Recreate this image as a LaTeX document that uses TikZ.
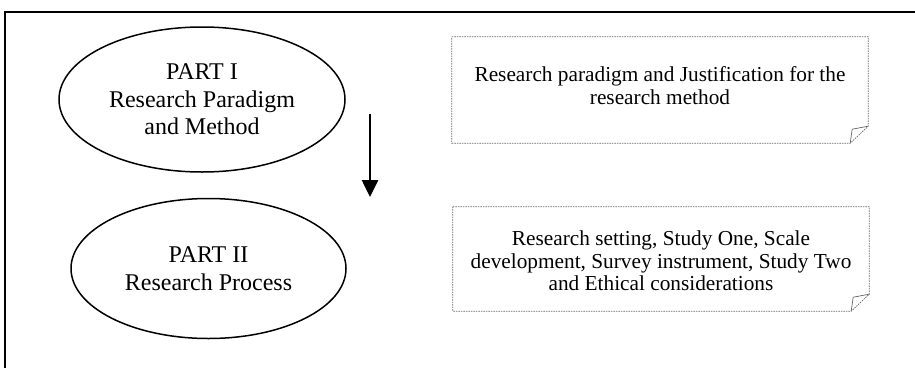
\documentclass[tikz,border=0pt]{standalone}
\usepackage{fontspec}
\setmainfont{Liberation Serif}
\usetikzlibrary{shapes.geometric,arrows.meta}
\begin{document}
\begin{tikzpicture}[x=1pt,y=-1pt,
  frameline/.style={line width=2pt,black},
  partnode/.style={ellipse,draw,line width=1.5pt,inner sep=0pt,align=center,
    font=\fontsize{24}{27.5}\selectfont},
  notebox/.style={rectangle,draw=none,inner sep=0pt},
  noteline/.style={draw=black!60,line width=0.7pt,dash pattern=on 1.5pt off 1pt},
  foldline/.style={draw=black!60,line width=0.7pt},
  notetext/.style={align=center,inner sep=0pt,font=\fontsize{21.3}{22.5}\selectfont},
  flow/.style={line width=2.6pt,-{Triangle[width=16pt,length=17pt]}}]
\useasboundingbox (0,0) rectangle (915,367);

% outer frame (only its top and left sides fall inside the page)
\draw[frameline] (915,12) -- (5,12) -- (5,368);

% the two parts
\node[partnode,minimum width=286pt,minimum height=145pt] (p1) at (202,99.5)
  {PART I\\Research Paradigm\\and Method};
\node[partnode,minimum width=275pt,minimum height=140pt] (p2) at (208.5,268.5)
  {PART II\\Research Process};

% direction of reading
\coordinate (a1) at (370,114);
\coordinate (a2) at (370,197);
\draw[flow] (a1) -- (a2);

% note boxes with a folded bottom-right corner
\node[notebox,minimum width=416pt,minimum height=106pt] (b1) at (660,90) {};
\node[notebox,minimum width=416pt,minimum height=104pt] (b2) at (661,259) {};
\foreach \b in {b1,b2}{
  \draw[noteline] (\b.north west) -- (\b.north east)
    -- ([yshift=17pt]\b.south east) -- ([xshift=-18pt]\b.south east)
    -- (\b.south west) -- cycle;
  \draw[foldline] ([yshift=17pt]\b.south east)
    -- ([xshift=-16pt,yshift=14pt]\b.south east)
    -- ([xshift=-18pt]\b.south east);
}

\node[notetext] (t1) at ([yshift=4.5pt]b1.center)
  {Research paradigm and Justification for the\\research method};
\node[notetext] (t2) at ([yshift=-2pt]b2.center)
  {Research setting, Study One, Scale\\development, Survey instrument, Study Two\\and Ethical considerations};
\end{tikzpicture}
\end{document}
